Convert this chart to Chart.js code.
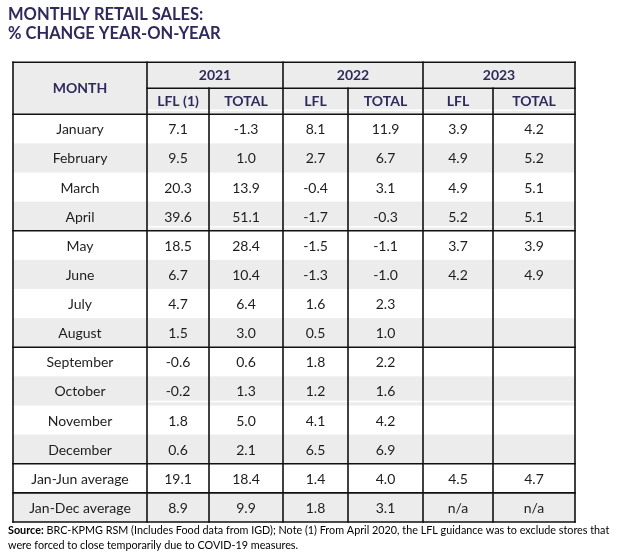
<!DOCTYPE html>
<html>
<head>
<meta charset="utf-8">
<title>Monthly retail sales</title>
<script src="https://cdn.jsdelivr.net/npm/chart.js@4.4.0/dist/chart.umd.min.js"></script>
<style>
    html, body { margin: 0; padding: 0; background: #fff; }
    #wrap { width: 630px; height: 558px; }
</style>
</head>
<body>
<div id="wrap"><canvas id="table"></canvas></div>
<script>
const months = ['January', 'February', 'March', 'April', 'May', 'June', 'July', 'August',
    'September', 'October', 'November', 'December', 'Jan-Jun average', 'Jan-Dec average'];
const years = ['2021', '2022', '2023'];
const subHeads = ['LFL (1)', 'TOTAL', 'LFL', 'TOTAL', 'LFL', 'TOTAL'];

const lfl2021 = [7.1, 9.5, 20.3, 39.6, 18.5, 6.7, 4.7, 1.5, -0.6, -0.2, 1.8, 0.6, 19.1, 8.9];
const total2021 = [-1.3, 1.0, 13.9, 51.1, 28.4, 10.4, 6.4, 3.0, 0.6, 1.3, 5.0, 2.1, 18.4, 9.9];
const lfl2022 = [8.1, 2.7, -0.4, -1.7, -1.5, -1.3, 1.6, 0.5, 1.8, 1.2, 4.1, 6.5, 1.4, 1.8];
const total2022 = [11.9, 6.7, 3.1, -0.3, -1.1, -1.0, 2.3, 1.0, 2.2, 1.6, 4.2, 6.9, 4.0, 3.1];
const lfl2023 = [3.9, 4.9, 4.9, 5.2, 3.7, 4.2, null, null, null, null, null, null, 4.5, 'n/a'];
const total2023 = [4.2, 5.2, 5.1, 5.1, 3.9, 4.9, null, null, null, null, null, null, 4.7, 'n/a'];

const titleLines = ['MONTHLY RETAIL SALES:', '% CHANGE YEAR-ON-YEAR'];
const sourceBold = 'Source:';
const sourceLines = [' BRC-KPMG RSM (Includes Food data from IGD); Note (1) From April 2020, the LFL guidance was to exclude stores that',
    'were forced to close temporarily due to COVID-19 measures.'];

const valueCols = [lfl2021, total2021, lfl2022, total2022, lfl2023, total2023];

// layout: column widths in x-scale units, header row height in body-row units
const colWidths = [134, 62, 74, 65, 75, 70, 82];
const headRow = 0.892;
const ruleAfter = [4, 8, 12, 13]; // body rows followed by a black rule
const streakAfter = [4, 10];      // scanned white streaks in the original

const edges = colWidths.reduce((acc, w) => { acc.push(acc[acc.length - 1] + w); return acc; }, [0]);
const mid = k => (edges[k] + edges[k + 1]) / 2;

const navy = '#2e2a5c';
const shade = '#ececec';
const ink = '#1d1d1d';
const rule = '#111111';

function cells(values, k) {
    return values.map((v, i) => ({ x: mid(k), y: i + 0.5, v: v }));
}

const datasets = [{ data: cells(months, 0) }]
    .concat(valueCols.map((col, k) => ({ data: cells(col, k + 1) })))
    .map(ds => Object.assign(ds, { pointRadius: 0, pointHoverRadius: 0 }));

const tablePlugin = {
    id: 'tableCells',
    beforeDatasetsDraw(chart) {
        const { ctx, scales: { x, y } } = chart;
        const X = v => x.getPixelForValue(v);
        const Y = v => y.getPixelForValue(v);
        const x0 = X(0), x1 = X(edges[edges.length - 1]);
        ctx.save();

        // backgrounds
        ctx.fillStyle = shade;
        ctx.fillRect(x0, Y(-2 * headRow), x1 - x0, Y(0) - Y(-2 * headRow));
        months.forEach((m, i) => {
            if (i % 2) ctx.fillRect(x0, Y(i), x1 - x0, Y(i + 1) - Y(i));
        });

        // faint white streaks
        ctx.strokeStyle = '#ffffff';
        ctx.lineWidth = 1.5;
        [Y(0) - 4].concat(streakAfter.map(r => Y(r) - 4)).forEach(py => {
            ctx.beginPath();
            ctx.moveTo(X(edges[1]), py);
            ctx.lineTo(x1, py);
            ctx.stroke();
        });

        // rules
        ctx.strokeStyle = rule;
        ctx.lineWidth = 1.6;
        ctx.lineCap = 'square';
        const h = (v, a, b) => { ctx.beginPath(); ctx.moveTo(X(a), Y(v)); ctx.lineTo(X(b), Y(v)); ctx.stroke(); };
        const vl = (e, a, b) => { ctx.beginPath(); ctx.moveTo(X(e), Y(a)); ctx.lineTo(X(e), Y(b)); ctx.stroke(); };
        const end = edges[edges.length - 1];
        h(-2 * headRow, 0, end);
        h(-headRow, edges[1], end);
        h(0, 0, end);
        ruleAfter.forEach(r => h(r, 0, end));
        h(months.length, 0, end);
        [0, 1, 3, 5, 7].forEach(k => vl(edges[k], -2 * headRow, months.length));
        [2, 4, 6].forEach(k => vl(edges[k], -headRow, months.length));
        ctx.restore();
    },
    afterDatasetsDraw(chart) {
        const { ctx, scales: { x, y } } = chart;
        const X = v => x.getPixelForValue(v);
        const Y = v => y.getPixelForValue(v);
        ctx.save();
        ctx.textAlign = 'center';
        ctx.textBaseline = 'middle';

        // header
        ctx.fillStyle = navy;
        ctx.font = 'bold 14px Lato';
        ctx.fillText('MONTH', X(mid(0)), Y(-headRow));
        years.forEach((yr, k) => {
            ctx.fillText(yr, X((edges[1 + 2 * k] + edges[3 + 2 * k]) / 2), Y(-1.5 * headRow));
        });
        subHeads.forEach((s, k) => ctx.fillText(s, X(mid(k + 1)), Y(-0.5 * headRow)));

        // body cells, placed by the scatter points
        ctx.fillStyle = ink;
        ctx.font = '14px Lato';
        chart.data.datasets.forEach((ds, di) => {
            chart.getDatasetMeta(di).data.forEach((pt, j) => {
                const v = ds.data[j].v;
                if (v === null) return;
                ctx.fillText(typeof v === 'number' ? v.toFixed(1) : v, pt.x, pt.y + 1);
            });
        });
        ctx.restore();
    },
    afterDraw(chart) {
        const { ctx, chartArea } = chart;
        ctx.save();
        ctx.fillStyle = '#000';
        ctx.textBaseline = 'middle';
        const lx = chartArea.left;
        const ly = chartArea.bottom + 9;
        ctx.font = 'bold 10.8px Lato';
        ctx.fillText(sourceBold, lx, ly);
        const bw = ctx.measureText(sourceBold).width;
        ctx.font = '10.8px Lato';
        ctx.fillText(sourceLines[0], lx + bw, ly);
        ctx.fillText(sourceLines[1], lx, ly + 15);
        ctx.restore();
    }
};

new Chart(document.getElementById('table'), {
    type: 'scatter',
    data: { datasets: datasets },
    options: {
        responsive: true,
        maintainAspectRatio: false,
        animation: false,
        events: [],
        layout: { padding: { left: 8, right: 8, top: 0, bottom: 36 } },
        scales: {
            x: { type: 'linear', display: false, min: -5, max: 609 },
            y: { type: 'linear', display: false, reverse: true, min: -2 * headRow, max: months.length }
        },
        plugins: {
            legend: { display: false },
            tooltip: { enabled: false },
            title: {
                display: true,
                text: titleLines,
                align: 'start',
                color: navy,
                font: { family: 'Lato', weight: 'bold', size: 16.5, lineHeight: 1.1 },
                padding: { top: 6, bottom: 20 }
            }
        }
    },
    plugins: [tablePlugin]
});
</script>
</body>
</html>
